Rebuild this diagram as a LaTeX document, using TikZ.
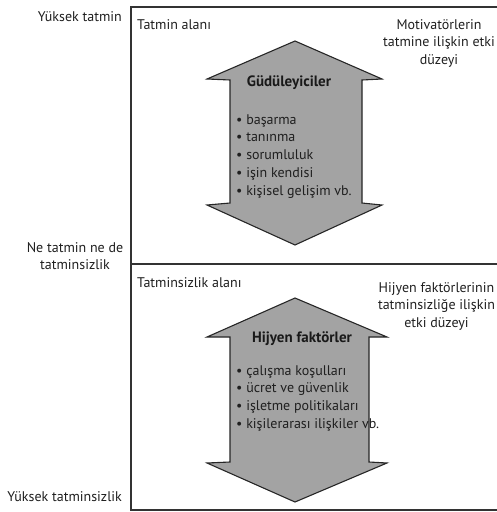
\documentclass[tikz,border=0pt]{standalone}
\usepackage{fontspec}
\setmainfont{PT Sans}
\begin{document}
\begin{tikzpicture}[x=1pt,y=-1pt,
  lbl/.style={inner sep=0pt, font=\fontsize{14}{17.5}\selectfont, text=black!88},
  head/.style={inner sep=0pt, font=\fontsize{15}{16}\selectfont\bfseries, text=black!90},
  lst/.style={inner sep=0pt, align=left, font=\fontsize{14}{17.8}\selectfont, text=black!88},
  arrowshape/.style={draw=black!85, line width=1.1pt, fill=arrowgray, line join=miter},
  frame/.style={draw=black!80, line width=1.4pt}]
\definecolor{arrowgray}{RGB}{163,163,163}
\useasboundingbox (0,0) rectangle (497,512);
\clip (0,0) rectangle (497,512);
% frame
\draw[frame] (560,7) -- (131,7) -- (131,510) -- (560,510);
\draw[frame] (131,264) -- (560,264);
% upper double arrow
\draw[arrowshape] (295,41) -- (382,79) -- (362,80) -- (362,203) -- (382,205) -- (295,245)
  -- (207,205) -- (230,203) -- (230,80) -- (207,79) -- cycle;
% lower double arrow
\draw[arrowshape] (295,298) -- (387,337) -- (369,337) -- (369,462) -- (387,463) -- (295,502)
  -- (207,463) -- (230,462) -- (230,337) -- (207,337) -- cycle;
% left labels
\node[lbl, anchor=east] (yt) at (122,17) {Yüksek tatmin};
\node[lbl, align=center] (nn) at (75,256) {Ne tatmin ne de\\tatminsizlik};
\node[lbl, anchor=east] (yts) at (122,497) {Yüksek tatminsizlik};
% area labels
\node[lbl, anchor=west] (ta) at (137,25) {Tatmin alanı};
\node[lbl, anchor=west] (tsa) at (137,283) {Tatminsizlik alanı};
% right labels
\node[lbl, align=center] (mot) at (439,43) {Motivatörlerin\\tatmine ilişkin etki\\düzeyi};
\node[lbl, align=center] (hij) at (436.5,306) {Hijyen faktörlerinin\\tatminsizliğe ilişkin\\etki düzeyi};
% arrow contents
\node[head] (gud) at (289,83) {Güdüleyiciler};
\node[lst, anchor=north west] (gl) at (236,114) {\textbullet\ başarma\\\textbullet\ tanınma\\\textbullet\ sorumluluk\\\textbullet\ işin kendisi\\\textbullet\ kişisel gelişim vb.};
\node[head] (hf) at (302,339) {Hijyen faktörler};
\node[lst, anchor=north west] (hl) at (236,365) {\textbullet\ çalışma koşulları\\\textbullet\ ücret ve güvenlik\\\textbullet\ işletme politikaları\\\textbullet\ kişilerarası ilişkiler vb.};
\end{tikzpicture}
\end{document}
